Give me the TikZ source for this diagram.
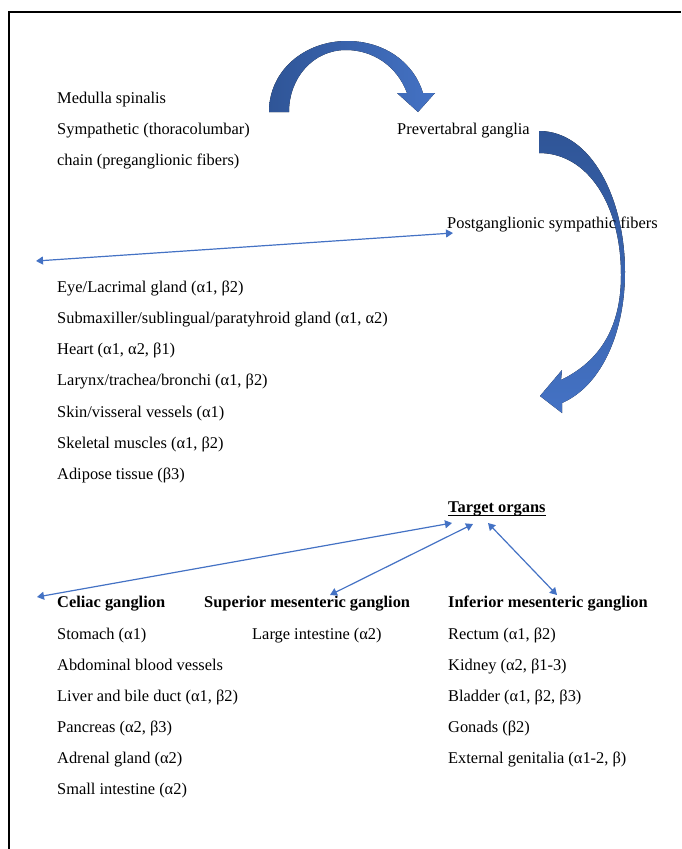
\documentclass[tikz,border=0pt]{standalone}
\usepackage{fontspec}
\setmainfont{Liberation Serif}
\usetikzlibrary{arrows.meta}
\definecolor{arrowblue}{RGB}{68,114,196}
\definecolor{arrowdark}{RGB}{47,85,151}
\tikzset{
  txt/.style={anchor=base west, inner sep=0pt, font=\fontsize{16.4}{19}\selectfont},
  hdr/.style={txt, font=\fontsize{16.4}{19}\selectfont\bfseries},
  link/.style={draw=arrowblue, line width=1.2pt,
    {Triangle[length=7pt,width=8pt]}-{Triangle[length=7pt,width=8pt]}},
  bigarrow/.style={draw=none}
}

\begin{document}
\begin{tikzpicture}[x=1pt,y=1pt,yscale=-1,xscale=1]
\useasboundingbox (0,0) rectangle (681,849);

%Frame
\draw [line width=1.5pt] (9,849) -- (9,12) -- (681,12) ;

%Curved Arrow (over)
\fill [bigarrow, left color=arrowdark, right color=arrowblue]
  (269,112) .. controls (269,70) and (305,41) .. (347,41)
  .. controls (385,41) and (414,63) .. (423,93)
  -- (435,93) -- (418,112) -- (397,93) -- (407,93)
  .. controls (397,66) and (373,50) .. (346,50)
  .. controls (313,50) and (289,78) .. (289,112) -- cycle ;
%Curved Arrow (down)
\fill [bigarrow, top color=arrowdark, bottom color=arrowblue]
  (539,131) .. controls (592,131) and (625,200) .. (625,272)
  .. controls (625,330) and (603,385) .. (562,403)
  -- (562,413) -- (540,396) -- (562,370) -- (561,380)
  .. controls (598,362) and (621,330) .. (621,275)
  .. controls (621,205) and (588,153) .. (539,153) -- cycle ;

% Text Node
\node [txt] (medulla) at (57,103) {Medulla spinalis};
\node [txt] (symp) at (57,134) {Sympathetic (thoracolumbar)};
\node [txt] (chain) at (57,165) {chain (preganglionic fibers)};
\node [txt] (prevert) at (397,134) {Prevertabral ganglia};
\node [txt] (postg) at (447,228) {Postganglionic sympathic fibers};

% Text Node
\node [txt] (eye) at (57,292) {Eye/Lacrimal gland (α1, β2)};
\node [txt] (submax) at (57,323.3) {Submaxiller/sublingual/paratyhroid gland (α1, α2)};
\node [txt] (heart) at (57,354.6) {Heart (α1, α2, β1)};
\node [txt] (larynx) at (57,385.9) {Larynx/trachea/bronchi (α1, β2)};
\node [txt] (skin) at (57,417.2) {Skin/visseral vessels (α1)};
\node [txt] (skeletal) at (57,448.5) {Skeletal muscles (α1, β2)};
\node [txt] (adipose) at (57,479.8) {Adipose tissue (β3)};

% Text Node
\node [hdr] (target) at (448,512) {Target organs};
\draw [line width=1pt] ([yshift=3pt]target.base west) -- ([yshift=3pt]target.base east) ;

% Text Node
\node [hdr] (celiac) at (57,607) {Celiac ganglion};
\node [hdr] (superior) at (204,607) {Superior mesenteric ganglion};
\node [hdr] (inferior) at (448,607) {Inferior mesenteric ganglion};

% Text Node
\node [txt] (stomach) at (57,639) {Stomach (α1)};
\node [txt] (abdominal) at (57,670) {Abdominal blood vessels};
\node [txt] (liver) at (57,701) {Liver and bile duct (α1, β2)};
\node [txt] (pancreas) at (57,732.5) {Pancreas (α2, β3)};
\node [txt] (adrenal) at (57,763.5) {Adrenal gland (α2)};
\node [txt] (smallint) at (57,794.5) {Small intestine (α2)};
\node [txt] (largeint) at (252,639) {Large intestine (α2)};
\node [txt] (rectum) at (448,639) {Rectum (α1, β2)};
\node [txt] (kidney) at (448,670) {Kidney (α2, β1-3)};
\node [txt] (bladder) at (448,701) {Bladder (α1, β2, β3)};
\node [txt] (gonads) at (448,732.5) {Gonads (β2)};
\node [txt] (genitalia) at (448,763.5) {External genitalia (α1-2, β)};

%Straight Lines
\coordinate (postTip) at (453,233);
\coordinate (organsL) at (36,261);
\coordinate (tgtA) at (452,523);
\coordinate (tgtB) at (473,524);
\coordinate (tgtC) at (488,523);
\coordinate (celiacTip) at (37,597);
\coordinate (superiorTip) at (330,595);
\coordinate (inferiorTip) at (557,595);
\draw [link] (organsL) -- (postTip) ;
\draw [link] (celiacTip) -- (tgtA) ;
\draw [link] (superiorTip) -- (tgtB) ;
\draw [link] (inferiorTip) -- (tgtC) ;

\end{tikzpicture}
\end{document}
